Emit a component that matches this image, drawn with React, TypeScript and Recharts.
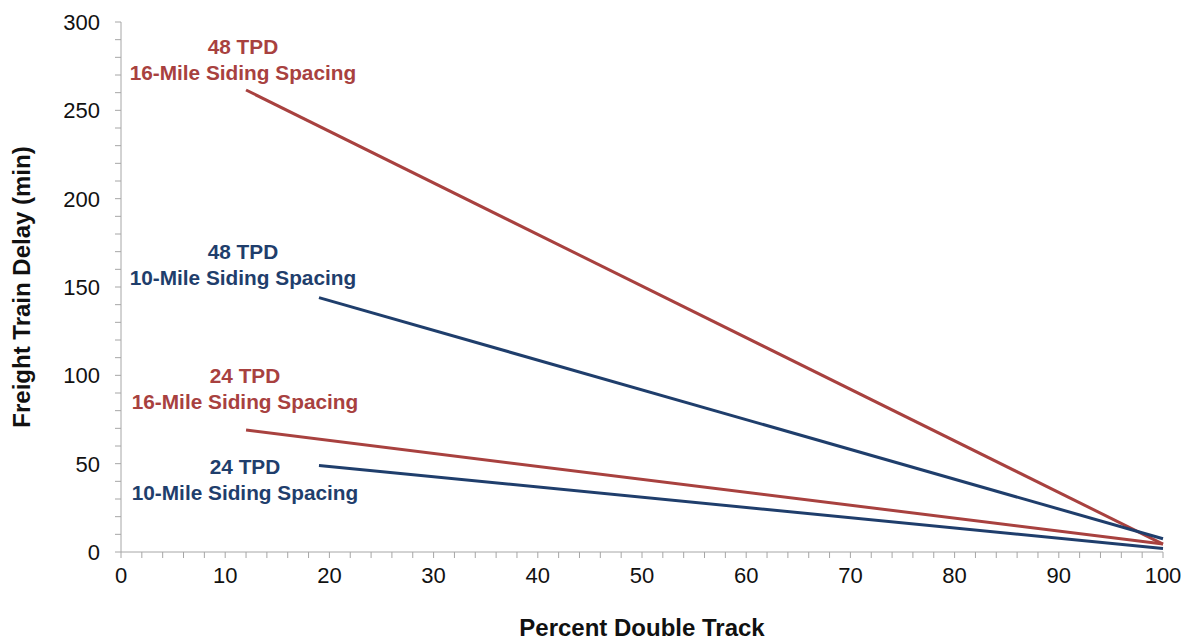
import { LineChart, Line, XAxis, YAxis, ReferenceDot, Label } from 'recharts';

const RED = '#A8413F';
const BLUE = '#1F3E6C';
const FONT = '"Liberation Sans", Arial, sans-serif';

// percent double track at start / end of each case
const red48 = [
  { x: 12, y: 261.5 },
  { x: 100, y: 4.5 },
];
const blue48 = [
  { x: 19, y: 144 },
  { x: 100, y: 7.5 },
];
const red24 = [
  { x: 12, y: 69 },
  { x: 100, y: 4.5 },
];
const blue24 = [
  { x: 19, y: 49 },
  { x: 100, y: 2 },
];

const xTicks = [0, 2, 4, 6, 8, 10, 12, 14, 16, 18, 20, 22, 24, 26, 28, 30, 32, 34, 36, 38, 40, 42, 44, 46, 48, 50, 52, 54, 56, 58, 60, 62, 64, 66, 68, 70, 72, 74, 76, 78, 80, 82, 84, 86, 88, 90, 92, 94, 96, 98, 100];
const yTicks = [0, 10, 20, 30, 40, 50, 60, 70, 80, 90, 100, 110, 120, 130, 140, 150, 160, 170, 180, 190, 200, 210, 220, 230, 240, 250, 260, 270, 280, 290, 300];

// case labels, placed at the centre of each two-line block
const notes = [
  { top: '48 TPD', bottom: '16-Mile Siding Spacing', x: 11.7, y: 278.5, color: RED },
  { top: '48 TPD', bottom: '10-Mile Siding Spacing', x: 11.7, y: 162.4, color: BLUE },
  { top: '24 TPD', bottom: '16-Mile Siding Spacing', x: 11.9, y: 92.2, color: RED },
  { top: '24 TPD', bottom: '10-Mile Siding Spacing', x: 11.9, y: 41, color: BLUE },
];

const XTick = (props: any) => {
  const { x, y, payload } = props;
  if (payload.value % 10 !== 0) return <g />;
  return (
    <text x={x} y={y} dy="0.72em" textAnchor="middle" fontSize={22} fontFamily={FONT} fill="#111">
      {payload.value}
    </text>
  );
};

const YTick = (props: any) => {
  const { x, y, payload } = props;
  if (payload.value % 50 !== 0) return <g />;
  return (
    <text x={x} y={y} dy="0.36em" textAnchor="end" fontSize={22} fontFamily={FONT} fill="#111">
      {payload.value}
    </text>
  );
};

const NoteLabel = (color: string, top: string, bottom: string) => (props: any) => {
  const { viewBox } = props;
  const cx = viewBox.x + (viewBox.width || 0) / 2;
  const cy = viewBox.y + (viewBox.height || 0) / 2;
  return (
    <text textAnchor="middle" fontSize={20.8} fontWeight="bold" fontFamily={FONT} fill={color}>
      <tspan x={cx} y={cy - 13} dy="0.35em">{top}</tspan>
      <tspan x={cx} y={cy + 13} dy="0.35em">{bottom}</tspan>
    </text>
  );
};

export default function App() {
  return (
    <div style={{ position: 'absolute', left: 0, top: 0, background: '#fff' }}>
      <LineChart width={1190} height={640} margin={{ top: 22, right: 27, bottom: 0, left: 0 }}>
        <XAxis
          type="number"
          dataKey="x"
          domain={[0, 100]}
          ticks={xTicks}
          interval={0}
          height={88}
          tickSize={6}
          tickMargin={9}
          stroke="#A6A6A6"
          tick={<XTick />}
          allowDuplicatedCategory={false}
        >
          <Label
            content={(p: any) => (
              <text
                x={p.viewBox.x + p.viewBox.width / 2}
                y={p.viewBox.y + 76}
                dy="0.35em"
                textAnchor="middle"
                fontSize={24}
                fontWeight="bold"
                fontFamily={FONT}
                fill="#111"
              >
                Percent Double Track
              </text>
            )}
          />
        </XAxis>
        <YAxis
          type="number"
          dataKey="y"
          domain={[0, 300]}
          ticks={yTicks}
          interval={0}
          width={121}
          tickSize={6}
          tickMargin={15}
          stroke="#A6A6A6"
          tick={<YTick />}
        >
          <Label
            content={(p: any) => {
              const cx = p.viewBox.x + 22;
              const cy = p.viewBox.y + p.viewBox.height / 2;
              return (
                <text
                  x={cx}
                  y={cy}
                  dy="0.35em"
                  textAnchor="middle"
                  transform={`rotate(-90, ${cx}, ${cy})`}
                  fontSize={24}
                  fontWeight="bold"
                  fontFamily={FONT}
                  fill="#111"
                >
                  Freight Train Delay (min)
                </text>
              );
            }}
          />
        </YAxis>
        <Line data={red48} dataKey="y" stroke={RED} strokeWidth={3} dot={false} isAnimationActive={false} />
        <Line data={blue48} dataKey="y" stroke={BLUE} strokeWidth={3} dot={false} isAnimationActive={false} />
        <Line data={red24} dataKey="y" stroke={RED} strokeWidth={3} dot={false} isAnimationActive={false} />
        <Line data={blue24} dataKey="y" stroke={BLUE} strokeWidth={3} dot={false} isAnimationActive={false} />
        {notes.map((n, i) => (
          <ReferenceDot
            key={i}
            x={n.x}
            y={n.y}
            r={0}
            fill="none"
            stroke="none"
            label={NoteLabel(n.color, n.top, n.bottom)}
          />
        ))}
      </LineChart>
    </div>
  );
}
